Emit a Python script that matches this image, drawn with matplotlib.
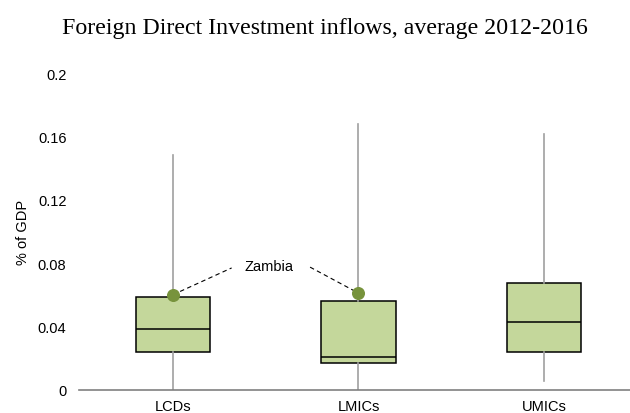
import matplotlib.pyplot as plt

categories = ['LCDs', 'LMICs', 'UMICs']
whisker_low = [0.0, 0.0, 0.0053]
q1 = [0.0236, 0.0167, 0.0236]
median = [0.0382, 0.0205, 0.0428]
q3 = [0.0588, 0.0559, 0.0672]
whisker_high = [0.148, 0.1678, 0.1614]

zambia_x = [0, 1]
zambia_y = [0.060, 0.061]

fig = plt.figure(figsize=(6.3, 4.14), dpi=100)
ax = fig.add_axes([79 / 630, 1 - 390.7 / 414, 551 / 630, (390.7 - 74) / 414])

stats = []
for i, name in enumerate(categories):
    stats.append({'label': name, 'whislo': whisker_low[i], 'q1': q1[i], 'med': median[i],
                  'q3': q3[i], 'whishi': whisker_high[i], 'fliers': []})

ax.bxp(stats, positions=range(len(categories)), widths=0.4, patch_artist=True,
       showcaps=False, showfliers=False,
       boxprops=dict(facecolor='#C4D79B', edgecolor='black', linewidth=1.1),
       medianprops=dict(color='black', linewidth=1.1),
       whiskerprops=dict(color='#A0A0A0', linewidth=1.2))

# Zambia marker and callout
ax.scatter(zambia_x, zambia_y, s=70, color='#77933C', zorder=5)
ax.plot([zambia_x[0], 0.316], [zambia_y[0], 0.0769], ls=(0, (4, 3)), color='black', lw=0.8)
ax.plot([0.739, zambia_x[1]], [0.0774, zambia_y[1]], ls=(0, (4, 3)), color='black', lw=0.8)
ax.text(0.518, 0.0784, 'Zambia', ha='center', va='center', fontsize=10.5,
        family='Liberation Sans')

ax.set_xlim(-0.507, 2.464)
ax.set_ylim(0, 0.2)
ax.set_yticks([0, 0.04, 0.08, 0.12, 0.16, 0.2])
ax.set_yticklabels(['0', '0.04', '0.08', '0.12', '0.16', '0.2'])
ax.set_xticks(range(len(categories)))
ax.set_xticklabels(categories)

for s in ['top', 'right', 'left']:
    ax.spines[s].set_visible(False)
ax.spines['bottom'].set_color('#808080')
ax.spines['bottom'].set_linewidth(1.2)
ax.tick_params(axis='both', length=0, labelsize=10.5)
ax.tick_params(axis='y', pad=9)
ax.tick_params(axis='x', pad=7)
for lbl in ax.get_xticklabels() + ax.get_yticklabels():
    lbl.set_family('Liberation Sans')

ax.set_ylabel('% of GDP', fontsize=10.5, family='Liberation Sans', labelpad=6)
fig.text(0.516, 1 - 33.8 / 414, 'Foreign Direct Investment inflows, average 2012-2016',
         ha='center', va='baseline', fontsize=17.2, family='Liberation Serif')

fig.savefig('out.png', dpi=100)
